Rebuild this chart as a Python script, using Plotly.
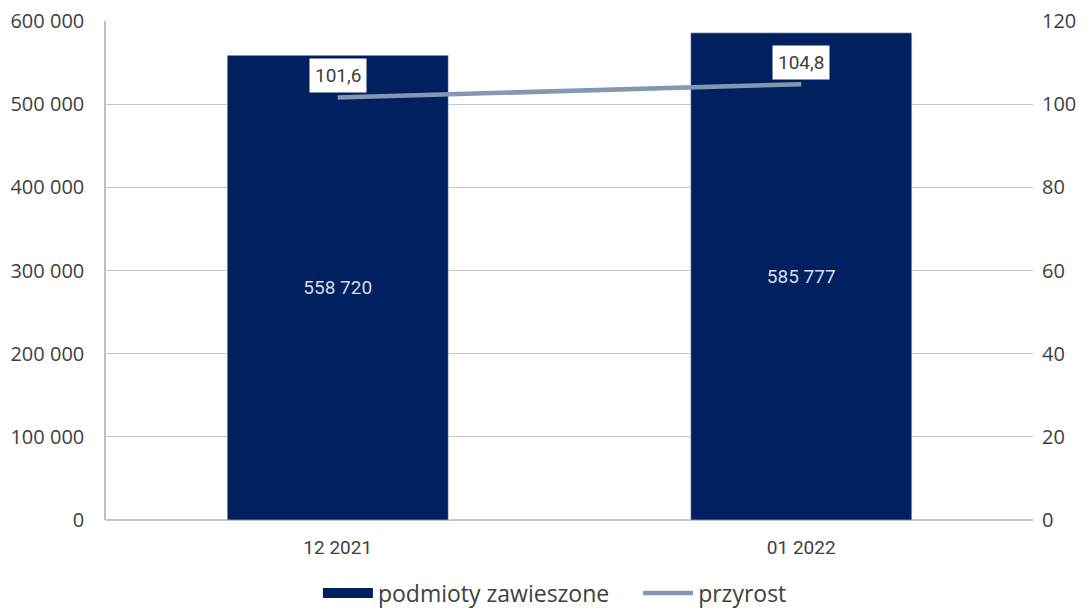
import plotly.graph_objects as go

categories = ["12 2021", "01 2022"]
suspended = [558720, 585777]
growth = [101.6, 104.8]
bar_labels = ["558 720", "585 777"]
growth_labels = ["101,6", "104,8"]
legend_names = ["podmioty zawieszone", "przyrost"]

NAVY = "#002060"
LINE = "#8497B0"

fig = go.Figure()
fig.add_trace(go.Bar(
    x=categories, y=suspended, name=legend_names[0],
    marker=dict(color=NAVY), width=0.477, showlegend=False,
    text=bar_labels, textposition="inside", insidetextanchor="middle",
    textfont=dict(color="#D6DCE8", size=19, family="Roboto"),
    textangle=0,
))
# legend proxy for bars (wide rectangle swatch)
fig.add_trace(go.Scatter(
    x=[None], y=[None], name=legend_names[0] + "\u00a0\u00a0\u00a0\u00a0", mode="lines",
    line=dict(color=NAVY, width=14), showlegend=True,
))
fig.add_trace(go.Scatter(
    x=categories, y=growth, name=legend_names[1], yaxis="y2", mode="lines",
    line=dict(color=LINE, width=4.5),
))
for c, g, t in zip(categories, growth, growth_labels):
    fig.add_annotation(x=c, y=g, xref="x", yref="y2", text=t, showarrow=False,
                       yshift=22, bgcolor="white", borderpad=5,
                       font=dict(size=19, color="#404040", family="Roboto"))

fig.update_layout(
    width=1083, height=600,
    margin=dict(l=98, r=58, t=13, b=88),
    plot_bgcolor="white", paper_bgcolor="white",
    separators=", ",
    showlegend=True,
    legend=dict(orientation="h", xref="container", x=0.505, xanchor="center",
                yref="container", y=0.025, yanchor="middle",
                font=dict(size=23, color="#404040", family="Open Sans"),
                traceorder="normal", itemwidth=50),
    bargap=0.523,
    xaxis=dict(type="category", showgrid=False, showline=False, ticks="",
               automargin=False, ticklabelstandoff=14,
               tickfont=dict(size=19, color="#404040", family="Roboto")),
    yaxis=dict(range=[0, 600000], dtick=100000, tickformat=",d",
               showgrid=True, gridcolor="#C8C8C8", gridwidth=1,
               showline=True, linecolor="#B4C0D3", linewidth=1.5,
               zeroline=True, zerolinecolor="#C8C8C8",
               ticks="", ticklabelstandoff=16, automargin=False,
               ticklabeloverflow="allow",
               tickfont=dict(size=20, color="#404040", family="Open Sans")),
    yaxis2=dict(range=[0, 120], dtick=20, overlaying="y", side="right",
                showgrid=False, zeroline=False, showline=False, ticks="",
                ticklabelstandoff=8, automargin=False,
                ticklabeloverflow="allow",
                tickfont=dict(size=20, color="#404040", family="Open Sans")),
)
fig.write_html("out.html")
